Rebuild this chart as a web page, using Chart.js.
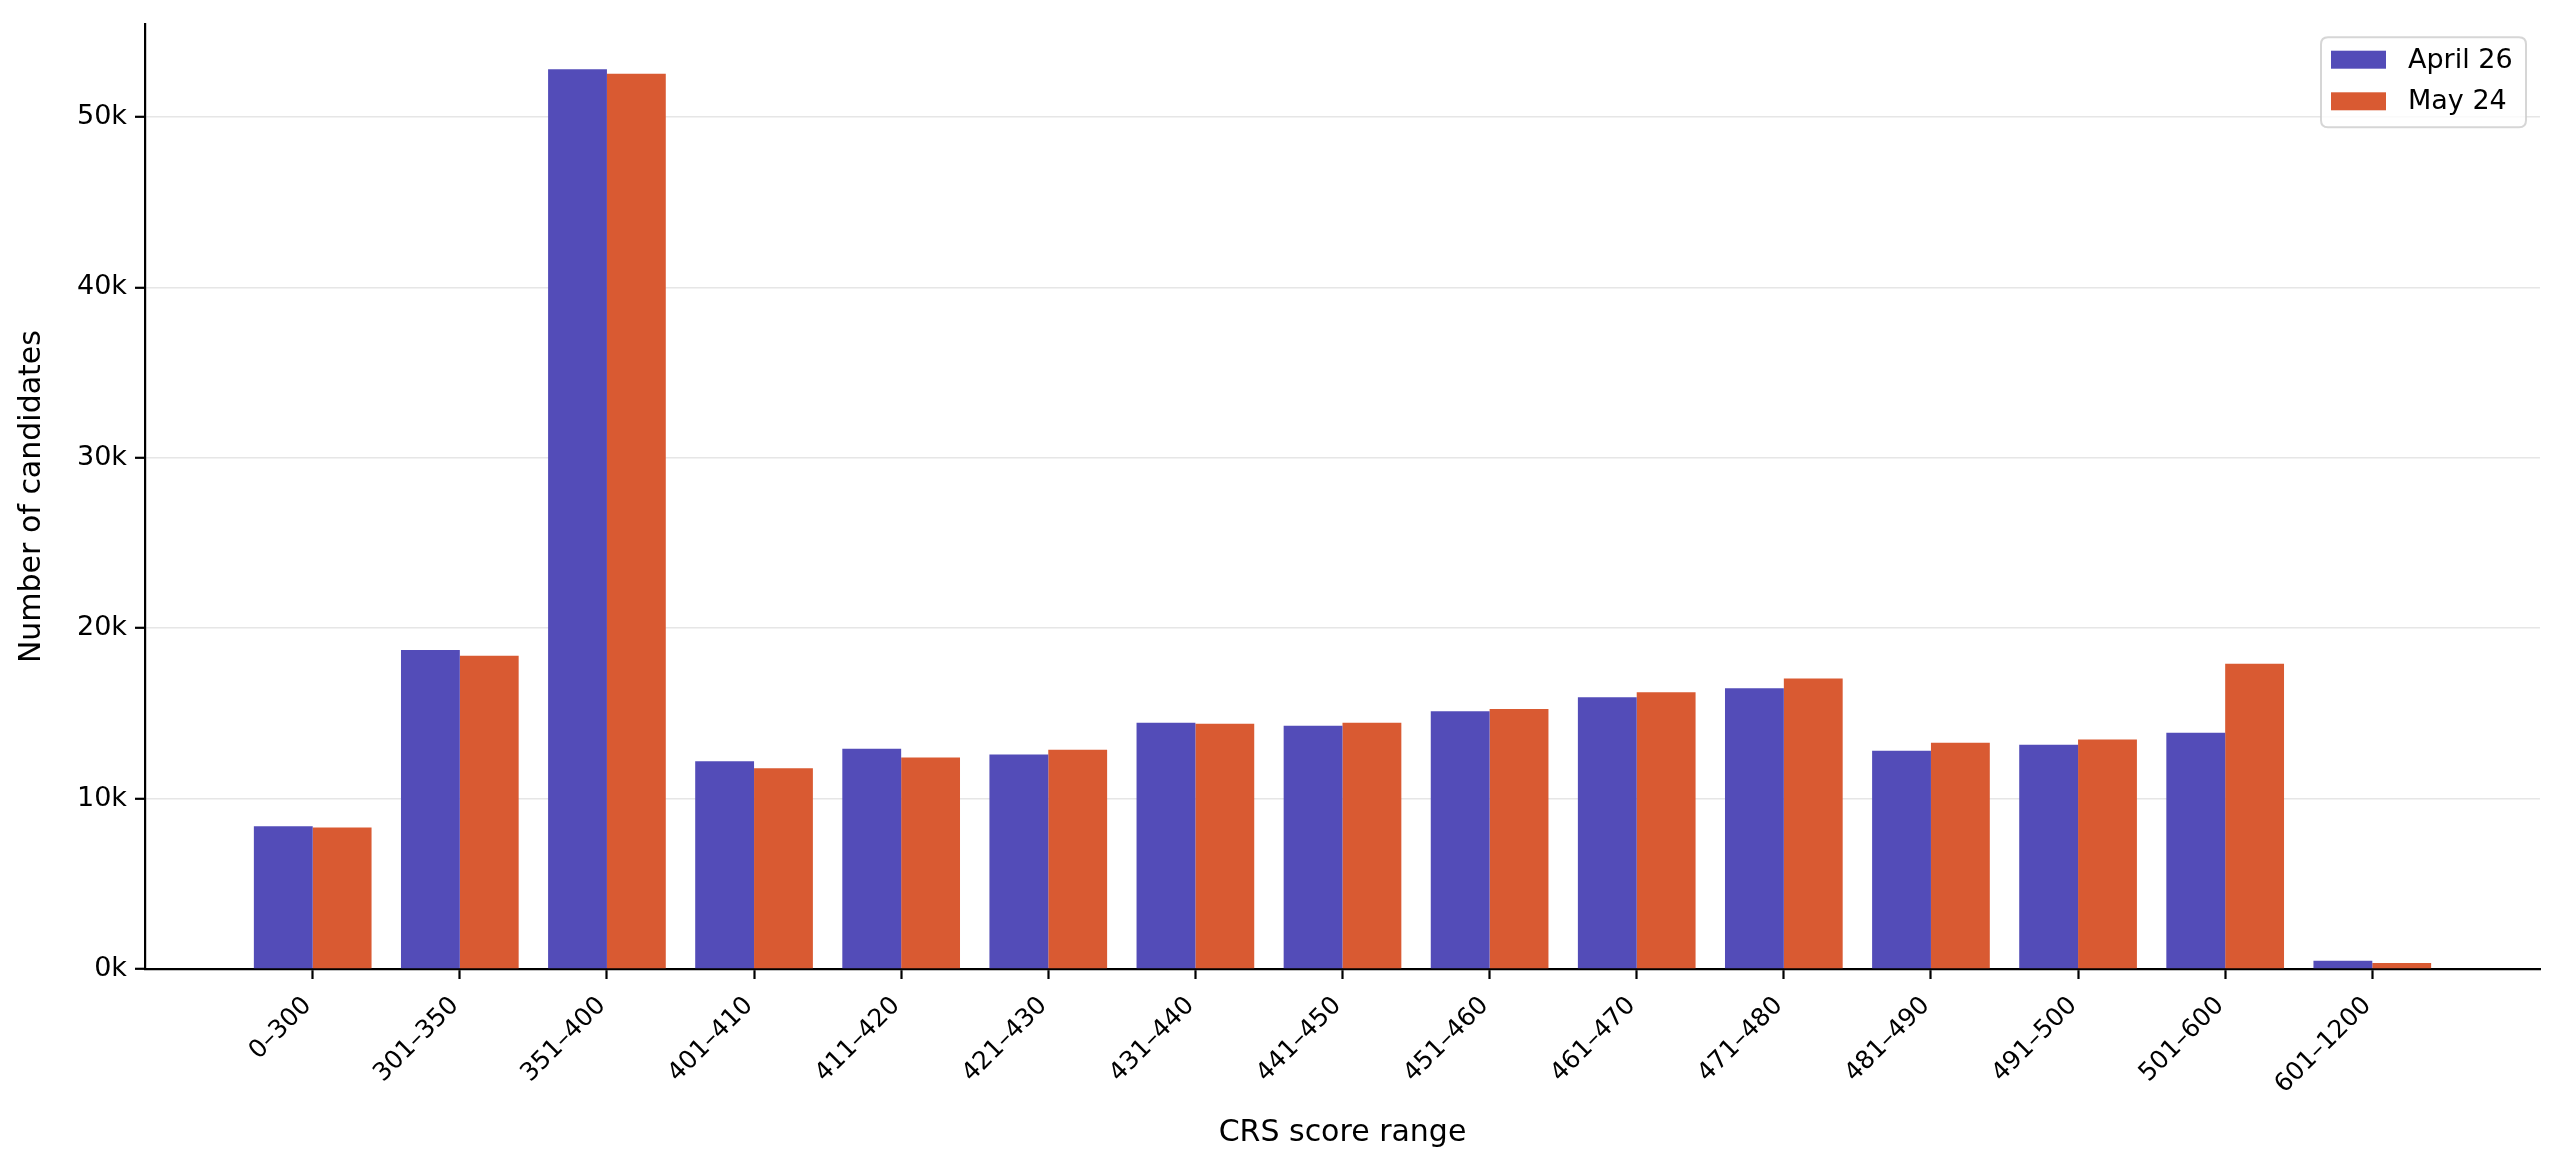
<!DOCTYPE html>
<html>
<head>
<meta charset="utf-8">
<script src="https://cdn.jsdelivr.net/npm/chart.js@4/dist/chart.umd.min.js"></script>
<style>
  html, body { margin: 0; padding: 0; background: #ffffff; }
  #wrap { width: 2560px; height: 1168px; }
</style>
</head>
<body>
<div id="wrap"><canvas id="c" width="2560" height="1168"></canvas></div>
<script>
const categories = ["0–300", "301–350", "351–400", "401–410", "411–420", "421–430", "431–440",
  "441–450", "451–460", "461–470", "471–480", "481–490", "491–500", "501–600", "601–1200"];
const april26 = [8380, 18720, 52800, 12190, 12930, 12580, 14450, 14270, 15130, 15950, 16470, 12810, 13160, 13870, 490];
const may24 = [8300, 18380, 52530, 11780, 12410, 12870, 14390, 14450, 15250, 16240, 17040, 13280, 13460, 17910, 350];
const seriesNames = ["April 26", "May 24"];
const yTicks = [0, 10000, 20000, 30000, 40000, 50000];

const FONT = "'DejaVu Sans', 'Liberation Sans', sans-serif";
const BLUE = "#534cb8";
const ORANGE = "#d95a32";

const yMax = Math.max(...april26, ...may24) * 1.05;
const xPad = 0.4 + (categories.length - 1 + 0.8) * 0.05; // matplotlib-like margins around bars

const legendPlugin = {
  id: "mplLegend",
  afterDraw(chart) {
    const ctx = chart.ctx;
    const ca = chart.chartArea;
    const w = 205, h = 90;
    const x = ca.right - 14 - w, y = ca.top + 13;
    const r = 7;
    ctx.save();
    ctx.beginPath();
    ctx.moveTo(x + r, y);
    ctx.lineTo(x + w - r, y);
    ctx.quadraticCurveTo(x + w, y, x + w, y + r);
    ctx.lineTo(x + w, y + h - r);
    ctx.quadraticCurveTo(x + w, y + h, x + w - r, y + h);
    ctx.lineTo(x + r, y + h);
    ctx.quadraticCurveTo(x, y + h, x, y + h - r);
    ctx.lineTo(x, y + r);
    ctx.quadraticCurveTo(x, y, x + r, y);
    ctx.closePath();
    ctx.fillStyle = "rgba(255,255,255,0.8)";
    ctx.fill();
    ctx.strokeStyle = "rgba(204,204,204,0.8)";
    ctx.lineWidth = 2;
    ctx.stroke();
    chart.data.datasets.forEach((ds, i) => {
      const cy = y + 22.5 + i * 41.6;
      ctx.fillStyle = ds.backgroundColor;
      ctx.fillRect(x + 10, cy - 9, 55, 18);
      ctx.fillStyle = "#000";
      ctx.font = "27px " + FONT;
      ctx.textBaseline = "middle";
      ctx.textAlign = "left";
      ctx.fillText(ds.label, x + 87, cy + 1);
    });
    ctx.restore();
  }
};

new Chart(document.getElementById("c"), {
  type: "bar",
  data: {
    datasets: [
      { label: seriesNames[0], data: april26.map((v, i) => ({ x: i, y: v })), backgroundColor: BLUE, borderWidth: 0 },
      { label: seriesNames[1], data: may24.map((v, i) => ({ x: i, y: v })), backgroundColor: ORANGE, borderWidth: 0 }
    ]
  },
  options: {
    responsive: false,
    devicePixelRatio: 1,
    animation: false,
    categoryPercentage: 0.8,
    barPercentage: 1.0,
    layout: { padding: { top: 19, right: 20, left: 0, bottom: 0 } },
    plugins: { legend: { display: false }, tooltip: { enabled: false } },
    scales: {
      x: {
        type: "linear",
        offset: false,
        bounds: "data",
        min: -xPad,
        max: categories.length - 1 + xPad,
        afterBuildTicks(scale) { scale.ticks = categories.map((_, i) => ({ value: i })); },
        afterFit(scale) { scale.height = 199; scale.paddingLeft = 0; scale.paddingRight = 0; },
        grid: { offset: false, drawOnChartArea: false, drawTicks: true, tickLength: 10, tickWidth: 2.2, tickColor: "#000" },
        border: { display: true, color: "#000", width: 2.2 },
        ticks: {
          autoSkip: false, maxRotation: 45, minRotation: 45, padding: 12, labelOffset: -5,
          color: "#000", font: { family: FONT, size: 25 },
          callback: (v) => categories[v]
        },
        title: { display: true, text: "CRS score range", color: "#000",
          font: { family: FONT, size: 30 }, padding: { top: 0, bottom: 17 } }
      },
      y: {
        type: "linear",
        min: 0,
        max: yMax,
        afterBuildTicks(scale) { scale.ticks = yTicks.map(v => ({ value: v })); },
        afterFit(scale) { scale.width = 145; },
        grid: { color: "#e6e6e6", lineWidth: 1.6, drawTicks: true, tickLength: 10, tickWidth: 2.2, tickColor: "#000" },
        border: { display: true, color: "#000", width: 2.2 },
        ticks: { padding: 8, color: "#000", font: { family: FONT, size: 27 },
          callback: (v) => (v / 1000) + "k" },
        title: { display: true, text: "Number of candidates", color: "#000",
          font: { family: FONT, size: 30 }, padding: { top: 14, bottom: 0 } }
      }
    }
  },
  plugins: [legendPlugin]
});
</script>
</body>
</html>
